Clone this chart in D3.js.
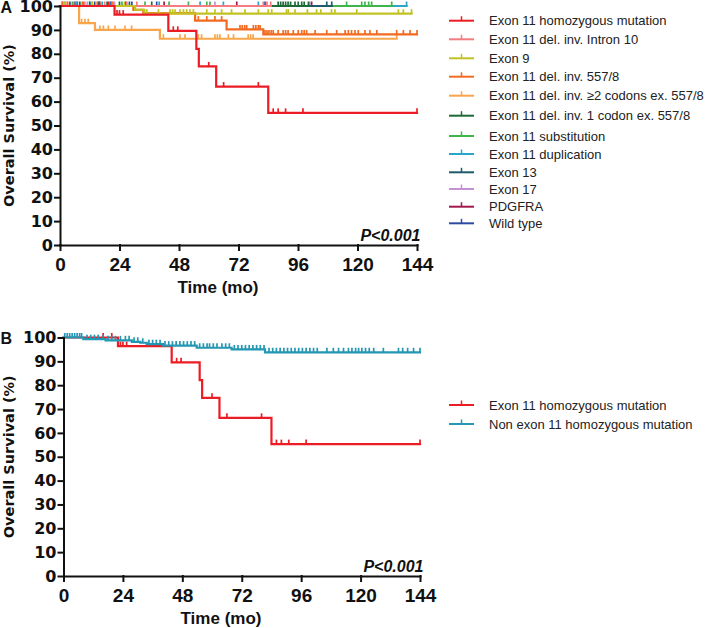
<!DOCTYPE html>
<html><head><meta charset="utf-8">
<script src="https://cdn.jsdelivr.net/npm/d3@7"></script>
<style>body{margin:0;background:#fff}svg{display:block}</style>
</head><body>
<svg id="chart" width="709" height="628"></svg>
<script>
// ---------- DATA ----------
const timeTicks = [0, 24, 48, 72, 96, 120, 144];
const survTicks = [0, 10, 20, 30, 40, 50, 60, 70, 80, 90, 100];
const pLabel = "P<0.001";

// Panel A series names (legend order)
const namesA = ["Exon 11 homozygous mutation", "Exon 11 del. inv. Intron 10", "Exon 9",
  "Exon 11 del. inv. 557/8", "Exon 11 del. inv. \u22652 codons ex. 557/8",
  "Exon 11 del. inv. 1 codon ex. 557/8", "Exon 11 substitution", "Exon 11 duplication",
  "Exon 13", "Exon 17", "PDGFRA", "Wild type"];
const colorsA = ["#ec1c24", "#f47c80", "#c2c225", "#f26b21", "#f9a54b", "#1c6a36",
  "#3db54a", "#2aa7c8", "#1f5b6b", "#c592d1", "#a3184c", "#2d4ba1"];

// Exon 11 homozygous mutation
const homoT = [22, 43.7, 55, 56, 63, 84];
const homoS = [96.4, 89.6, 82.1, 74.7, 66.3, 55.3];
const homoEnd = 144;
const homoCens = [16, 19.5, 23, 24, 25.5, 45.7, 47.5, 60, 66, 80, 86, 88, 91, 98, 144];
// Exon 11 del. inv. Intron 10
const intronT = [], intronS = [];
const intronEnd = 85;
const intronCens = [3, 5.5, 10, 13, 18, 21.5, 27, 31, 82, 83.5, 85];
// Exon 9
const ex9T = [30.3, 34];
const ex9S = [98.4, 96.8];
const ex9End = 141.8;
const ex9Cens = [2, 13, 26, 35, 39.7, 44.4, 45.4, 46.4, 48.4, 49.8, 51.1, 52.4, 53.8, 59.2, 62.5,
  65.2, 69.2, 74.6, 80, 84, 85.4, 91.4, 92.1, 94.8, 99.8, 103.5, 105.2, 109.5, 110.9, 119.7,
  136.5, 138.5, 141.8];
// Exon 11 del. inv. 557/8
const del557T = [29.6, 33.6, 54.5, 67.2, 82];
const del557S = [98.4, 97.0, 93.9, 90.2, 88.1];
const del557End = 144;
const del557Cens = [1, 3, 9, 15, 21, 55.8, 59.2, 62.5, 65.2, 72.6, 73.5, 74.5, 75.3, 78, 79, 80,
  80.7, 82.7, 83.5, 84.3, 85.2, 86, 88, 90, 91, 92, 94.1, 96.1, 97.5, 98.5, 99.5, 102.9, 107.6,
  111.6, 115, 116.3, 117.6, 119, 120.3, 123, 125, 127.8, 135.8, 138.5, 141.2, 144];
// Exon 11 del. inv. >=2 codons ex. 557/8
const del2T = [7.7, 14.1, 40.3];
const del2S = [92.8, 90.0, 86.3];
const del2End = 135.8;
const del2Cens = [8.7, 10.1, 11.4, 16.1, 17.5, 19.5, 22.2, 26.2, 28.9, 41.7, 48.4, 50.4, 55.8,
  57.1, 62.5, 63.5, 64.5, 67.9, 70, 75.9, 76.9, 77.9, 135.8];
// Exon 11 del. inv. 1 codon ex. 557/8
const del1End = 100.2;
const del1Cens = [8, 12, 19, 24, 37, 88, 89, 90, 91, 92, 93, 94.8, 96.1, 97.5, 98.5, 100.2];
// Exon 11 substitution
const substEnd = 133.8;
const substCens = [5, 9.5, 16, 25, 34.3, 44, 51.8, 59.2, 60.5, 115.6, 121.7, 123, 124.5, 125.7, 133.8];
// Exon 11 duplication
const dupEnd = 139.8;
const dupCens = [2, 6.8, 12, 17, 20, 40, 56.5, 65.9, 80, 139.8];
// Exon 13
const ex13End = 109.6;
const ex13Cens = [4, 15.5, 28, 107.6, 109.6];
// Exon 17
const ex17End = 100.8;
const ex17Cens = [11, 22, 62.5, 100.8];
// PDGFRA
const pdgfraEnd = 101.5;
const pdgfraCens = [7, 26.5, 42, 71.3, 101.5];
// Wild type
const wildEnd = 82.7;
const wildCens = [1, 6, 14, 20.5, 29, 39, 82.7];

// Panel B
const namesB = ["Exon 11 homozygous mutation", "Non exon 11 homozygous mutation"];
const colorsB = ["#ec1c24", "#2397b3"];
const nonT = [8, 17, 27.6, 31, 33.6, 40.3, 53.8, 67.9, 81.4];
const nonS = [99.3, 98.8, 98.2, 97.8, 97.2, 96.6, 95.7, 95.0, 93.8];
const nonEnd = 144;
const nonCens = [0.5, 1.5, 2.5, 3.5, 4.5, 5.5, 6.5, 7.3, 9.5, 11, 12.5, 14, 16, 18, 19.5, 21, 23,
  25, 26.5, 28.5, 30, 32, 34.5, 36, 37.5, 39, 41, 42.5, 44, 45.5, 47, 48.5, 50, 51.5, 53, 55,
  56.5, 58, 59, 60.5, 62, 64, 65.5, 67, 69, 70.5, 72, 73.5, 75, 76.5, 78, 79.5, 81, 83, 84.5, 86,
  87.5, 89, 90.5, 92, 93.5, 95, 96.5, 98, 99.5, 101, 102.5, 106.4, 109, 111.1, 113.1, 115.1,
  116.5, 118, 119.2, 120.5, 122, 123.5, 125.3, 129.2, 135.3, 137, 139, 141.4, 144];

// ---------- BUILD ----------
const seriesA = [
  {T: homoT, S: homoS, end: homoEnd, cens: homoCens},
  {T: intronT, S: intronS, end: intronEnd, cens: intronCens},
  {T: ex9T, S: ex9S, end: ex9End, cens: ex9Cens},
  {T: del557T, S: del557S, end: del557End, cens: del557Cens},
  {T: del2T, S: del2S, end: del2End, cens: del2Cens},
  {T: [], S: [], end: del1End, cens: del1Cens},
  {T: [], S: [], end: substEnd, cens: substCens},
  {T: [], S: [], end: dupEnd, cens: dupCens},
  {T: [], S: [], end: ex13End, cens: ex13Cens},
  {T: [], S: [], end: ex17End, cens: ex17Cens},
  {T: [], S: [], end: pdgfraEnd, cens: pdgfraCens},
  {T: [], S: [], end: wildEnd, cens: wildCens}
].map((d, i) => Object.assign(d, {name: namesA[i], color: colorsA[i]}));
const drawOrderA = [11, 10, 9, 7, 6, 8, 5, 1, 4, 3, 2, 0];

const seriesB = [
  {T: homoT, S: homoS, end: homoEnd, cens: homoCens},
  {T: nonT, S: nonS, end: nonEnd, cens: nonCens}
].map((d, i) => Object.assign(d, {name: namesB[i], color: colorsB[i]}));
const drawOrderB = [0, 1];

const svg = d3.select("#chart");
const FONT_AX = "'Liberation Sans', Arial, sans-serif";
const FONT_Y = "'DejaVu Sans', sans-serif";

function survAt(s, t) {
  let v = 100;
  s.T.forEach((tt, i) => { if (tt <= t) v = s.S[i]; });
  return v;
}
function stepPoints(s) {
  const pts = [[0, 100]];
  let prev = 100;
  s.T.forEach((t, i) => { pts.push([t, prev]); pts.push([t, s.S[i]]); prev = s.S[i]; });
  pts.push([s.end, prev]);
  return pts;
}

function drawPanel(cfg) {
  const g = svg.append("g");
  const x = d3.scaleLinear().domain([0, 144]).range([cfg.x0, cfg.x1]);
  const y = d3.scaleLinear().domain([0, 100]).range([cfg.y0, cfg.y1]);

  const line = d3.line().x(d => x(d[0])).y(d => y(d[1]));
  cfg.order.forEach(i => {
    const s = cfg.series[i];
    g.append("path").attr("d", line(stepPoints(s)))
      .attr("fill", "none").attr("stroke", s.color).attr("stroke-width", 2.2)
      .attr("stroke-linejoin", "miter").attr("stroke-linecap", "square");
    g.append("g").selectAll("line").data(s.cens).join("line")
      .attr("x1", t => x(t)).attr("x2", t => x(t))
      .attr("y1", t => y(survAt(s, t)))
      .attr("y2", t => y(survAt(s, t)) - 4.5)
      .attr("stroke", s.color).attr("stroke-width", 1.7);
  });

  // axes
  const xa = g.append("g").attr("transform", `translate(0,${cfg.y0})`)
    .call(d3.axisBottom(x).tickValues(timeTicks).tickSize(5).tickSizeOuter(0).tickPadding(8));
  const ya = g.append("g").attr("transform", `translate(${cfg.x0},0)`)
    .call(d3.axisLeft(y).tickValues(survTicks).tickSize(5).tickSizeOuter(0).tickPadding(2));
  [xa, ya].forEach(a => {
    a.selectAll("path,line").attr("stroke", "#111").attr("stroke-width", 2)
      .attr("stroke-linecap", "square");
  });
  xa.selectAll("text").attr("font-family", FONT_AX).attr("font-weight", "bold")
    .attr("font-size", 19).attr("fill", "#111");
  ya.selectAll("text").attr("font-family", FONT_Y).attr("font-weight", "bold")
    .attr("font-size", 16).attr("fill", "#111");

  // titles
  g.append("text").attr("x", cfg.xTitleX).attr("y", cfg.y0 + 48)
    .attr("text-anchor", "middle").attr("font-family", FONT_AX).attr("font-weight", "bold")
    .attr("font-size", 17).attr("fill", "#111").text("Time (mo)");
  g.append("text").attr("transform", `translate(14,${(cfg.y0 + cfg.y1) / 2}) rotate(-90)`)
    .attr("text-anchor", "middle").attr("font-family", FONT_Y).attr("font-weight", "bold")
    .attr("font-size", 14.5).attr("fill", "#111").text("Overall Survival (%)");
  g.append("text").attr("x", cfg.x1 + 3.5).attr("y", cfg.y0 - 3.8)
    .attr("text-anchor", "end").attr("font-family", FONT_AX).attr("font-weight", "bold")
    .attr("font-style", "italic").attr("font-size", 16).attr("fill", "#111").text(pLabel);
  g.append("text").attr("x", 0.5).attr("y", cfg.labelY)
    .attr("font-family", FONT_AX).attr("font-weight", "bold")
    .attr("font-size", 16).attr("fill", "#111").text(cfg.label);

  // legend
  const lg = g.append("g");
  cfg.series.forEach((s, i) => {
    const cy = cfg.legendY[i];
    lg.append("line").attr("x1", 449).attr("x2", 474).attr("y1", cy).attr("y2", cy)
      .attr("stroke", s.color).attr("stroke-width", 2);
    lg.append("line").attr("x1", 461.5).attr("x2", 461.5).attr("y1", cy).attr("y2", cy - 4.5)
      .attr("stroke", s.color).attr("stroke-width", 1.5);
    lg.append("text").attr("x", 489).attr("y", cy + 4.6)
      .attr("font-family", "'Liberation Sans', Arial, sans-serif").attr("font-size", 13)
      .attr("fill", "#222").text(s.name);
  });
}

drawPanel({series: seriesA, order: drawOrderA, x0: 60, x1: 417, y0: 245, y1: 6,
  xTitleX: 218, label: "A", labelY: 12.5,
  legendY: [20.7, 39.3, 58.3, 76.7, 95.7, 115.7, 136, 154, 172.3, 189, 206.7, 223.3]});
drawPanel({series: seriesB, order: drawOrderB, x0: 63.5, x1: 420, y0: 576, y1: 337.5,
  xTitleX: 221, label: "B", labelY: 344,
  legendY: [405, 424]});
</script>
</body></html>
